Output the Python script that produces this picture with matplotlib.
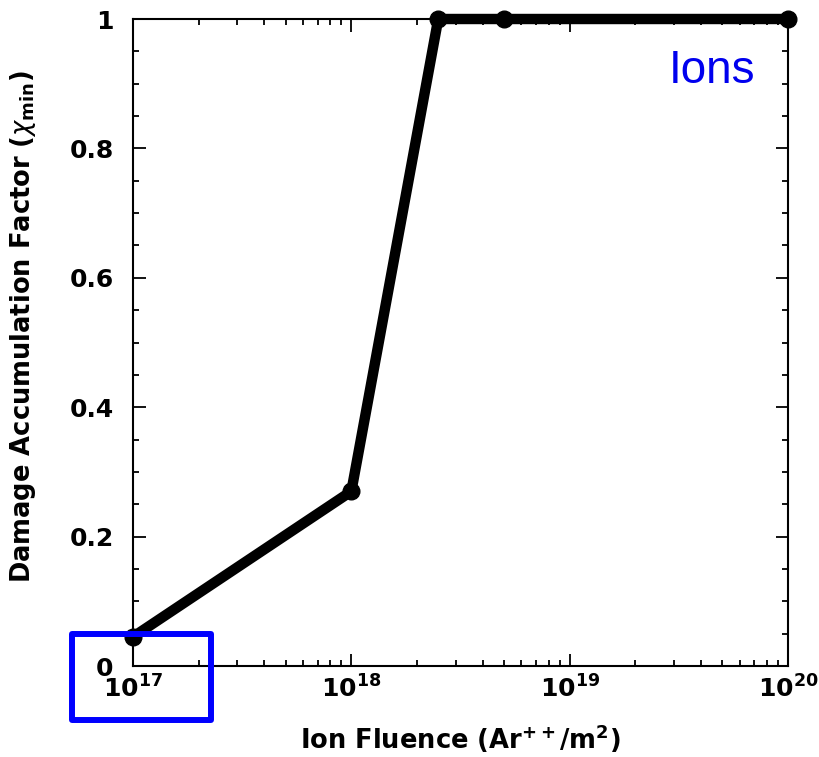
#!/usr/bin/env python3
"""
Damage accumulation factor vs ion fluence (Ar++ ions), log x axis.
"""

import matplotlib
matplotlib.use("Agg")
import matplotlib.pyplot as plt
from matplotlib.patches import Rectangle
from matplotlib.ticker import LogLocator, MultipleLocator, FixedLocator, FuncFormatter

# ============================================================
# Data
# ============================================================
fluence = [1e17, 1e18, 2.5e18, 5e18, 1e20]
chi_min = [0.045, 0.27, 1.0, 1.0, 1.0]

xtick_vals = [1e17, 1e18, 1e19, 1e20]
xtick_labels = [r"$\mathbf{10^{17}}$", r"$\mathbf{10^{18}}$",
                r"$\mathbf{10^{19}}$", r"$\mathbf{10^{20}}$"]
ytick_vals = [0, 0.2, 0.4, 0.6, 0.8, 1.0]
ytick_labels = ["0", "0.2", "0.4", "0.6", "0.8", "1"]

plt.rcParams["font.family"] = ["DejaVu Sans"]
plt.rcParams["mathtext.fontset"] = "dejavusans"

fig = plt.figure(figsize=(8.19, 7.57), dpi=100)
ax = fig.add_axes([0.1624, 0.1202, 0.7998, 0.8547])

ax.plot(fluence, chi_min, "-o", color="black", lw=7.5, ms=12,
        solid_joinstyle="round", clip_on=False, zorder=5)

ax.set_xscale("log")
ax.set_xlim(1e17, 1e20)
ax.set_ylim(0, 1)

# ---- ticks ----
ax.xaxis.set_major_locator(FixedLocator(xtick_vals))
ax.set_xticklabels(xtick_labels)
ax.xaxis.set_minor_locator(LogLocator(base=10, subs=range(2, 10), numticks=20))
ax.xaxis.set_minor_formatter(FuncFormatter(lambda v, p: ""))
ax.set_yticks(ytick_vals)
ax.set_yticklabels(ytick_labels)
ax.yaxis.set_minor_locator(MultipleLocator(0.05))

ax.tick_params(which="both", direction="in", top=True, right=True, width=1.3)
ax.tick_params(which="major", length=9)
ax.tick_params(which="minor", length=4)
ax.tick_params(axis="x", which="major", labelsize=18, pad=7)
ax.tick_params(axis="y", which="major", labelsize=18, pad=14)
for lab in ax.get_yticklabels():
    lab.set_fontweight("bold")
for sp in ax.spines.values():
    sp.set_linewidth(1.5)

ax.set_xlabel(r"Ion Fluence (Ar$\mathbf{^{++}}$/m$\mathbf{^2}$)",
              fontsize=18.5, fontweight="bold", labelpad=14)
ax.set_ylabel(r"Damage Accumulation Factor ($\chi_{\mathbf{min}}$)",
              fontsize=18.5, fontweight="bold")
ax.yaxis.set_label_coords(-0.145, 0.525)

# ---- annotations ----
ax.text(0.95, 0.92, "Ions", transform=ax.transAxes, color="#0000ee",
        family="Liberation Sans", fontsize=33, ha="right", va="center")

fig.add_artist(Rectangle((72 / 819, 1 - 720 / 757), 139 / 819, 86 / 757,
                         transform=fig.transFigure, fill=False,
                         edgecolor="#0000ff", lw=4.3, joinstyle="round"))

fig.savefig("out.png", dpi=100)
